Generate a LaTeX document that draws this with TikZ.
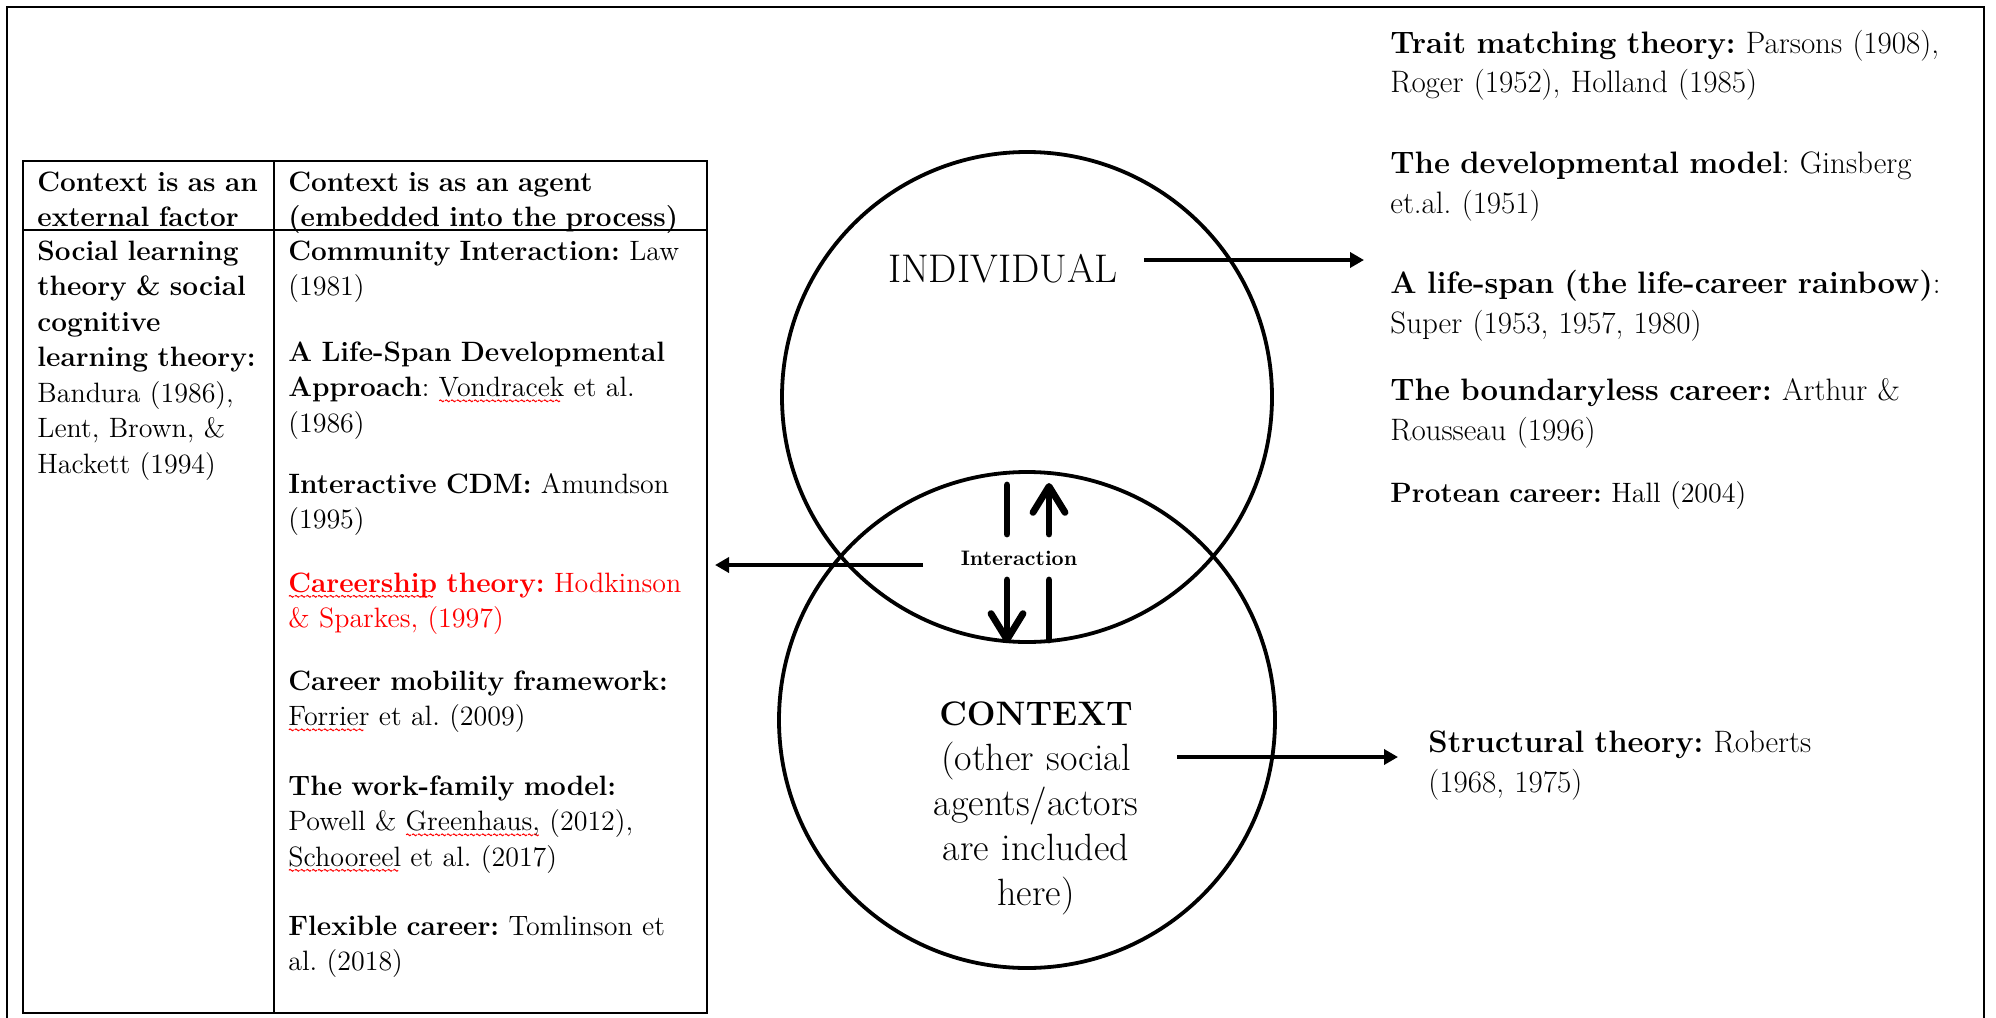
\documentclass[tikz,border=0pt]{standalone}
\usepackage{fontspec}
\usetikzlibrary{arrows.meta}

% red wavy underline, as a spell checker marks a word
\newsavebox\wavebox
\newsavebox\spellbox
\newcommand\spellwave[1]{\leavevmode\sbox\spellbox{#1}%
  \rlap{\raisebox{-3pt}[0pt][0pt]{\leaders\copy\wavebox\hskip\wd\spellbox}}\usebox\spellbox}

\tikzset{
  frameline/.style={line width=1.3pt},
  tableline/.style={line width=1pt},
  ring/.style={circle, draw, line width=1.9pt, inner sep=0pt, minimum size=#1},
  cell/.style={anchor=base west, inner sep=0pt, text width=230pt, align=left,
               font=\fontsize{14}{17.75}\selectfont},
  theory/.style={anchor=base west, inner sep=0pt, text width=330pt, align=left,
               font=\fontsize{15.5}{20}\selectfont},
  link/.style={line width=2.1pt, -{Triangle[length=7pt,width=7.5pt]}},
  flow/.style={line width=3.4pt, line cap=round, -{Straight Barb[length=13pt,width=16pt,round]}},
  bar/.style={line width=3.4pt, line cap=round},
}

\begin{document}
\frenchspacing
% one period of the wavy underline
\sbox\wavebox{\begin{pgfpicture}%
  \pgfsetlinewidth{0.5pt}\pgfsetstrokecolor{red}%
  \pgfpathmoveto{\pgfpoint{0pt}{0pt}}%
  \pgfpathcurveto{\pgfpoint{0.4pt}{0.6pt}}{\pgfpoint{0.8pt}{0.6pt}}{\pgfpoint{1.2pt}{0pt}}%
  \pgfpathcurveto{\pgfpoint{1.6pt}{-0.6pt}}{\pgfpoint{2pt}{-0.6pt}}{\pgfpoint{2.4pt}{0pt}}%
  \pgfusepath{stroke}%
\end{pgfpicture}}%
\begin{tikzpicture}[x=0.5pt, y=-0.5pt]
\useasboundingbox[fill=white] (0,0) rectangle (1996,1017);

% outer frame (its lower edge lies below the page)
\draw[frameline] (7,1030) -- (7,7) -- (1984,7) -- (1984,1030);

% two-column table
\coordinate (tnw) at (23,161);
\coordinate (tse) at (707,1013);
\coordinate (colt) at (274,161);
\coordinate (colb) at (274,1013);
\coordinate (rowl) at (23,230);
\coordinate (rowr) at (707,230);
\draw[tableline] (tnw) rectangle (tse);
\draw[tableline] (colt) -- (colb);
\draw[tableline] (rowl) -- (rowr);

% table headers
\node[cell] (headext) at (37,191) {\bfseries Context is as an\\external factor};
\node[cell] (headagent) at (288,191) {\bfseries Context is as an agent\\(embedded into the process)};

% left column
\node[cell] (social) at (37,260) {\textbf{Social learning}\\\textbf{theory \& social}\\\textbf{cognitive}\\\textbf{learning theory:}\\Bandura (1986),\\Lent, Brown, \&\\Hackett (1994)};

% right column
\node[cell] (community) at (288,260) {\textbf{Community Interaction:} Law\\(1981)};
\node[cell] (lifespan) at (288,361) {\textbf{A Life-Span Developmental}\\\textbf{Approach}: \spellwave{Vondracek} et al.\\(1986)};
\node[cell] (cdm) at (288,493) {\textbf{Interactive CDM:} Amundson\\(1995)};
\node[cell, text=red] (careership) at (288,592) {\textbf{\spellwave{Careership} theory:} Hodkinson\\\& Sparkes, (1997)};
\node[cell] (mobility) at (288,690) {\textbf{Career mobility framework:}\\\spellwave{Forrier} et al. (2009)};
\node[cell] (workfamily) at (288,795) {\textbf{The work-family model:}\\Powell \& \spellwave{Greenhaus,} (2012),\\\spellwave{Schooreel} et al. (2017)};
\node[cell] (flexible) at (288,935) {\textbf{Flexible career:} Tomlinson et\\al. (2018)};

% the two overlapping circles
\node[ring=245pt] (indiv) at (1027,397) {};
\node[ring=248pt] (ctx) at (1027,720) {};

\node[anchor=base, inner sep=0pt, font=\fontsize{20}{24}\selectfont] (indivlabel) at (1003,282) {INDIVIDUAL};
\node[anchor=base, inner sep=0pt, text width=135pt, align=center, font=\fontsize{19}{22.5}\selectfont] (ctxlabel) at (1036,725)
  {{\fontsize{17}{22.5}\selectfont\bfseries CONTEXT}\\(other social\\agents/actors\\are included\\here)};
\node[anchor=base, inner sep=0pt, font=\fontsize{10.5}{12}\selectfont\bfseries] (interaction) at (1019,565) {Interaction};

% theories on the right
\node[theory] (trait) at (1390,53) {\textbf{Trait matching theory:} Parsons (1908),\\Roger (1952), Holland (1985)};
\node[theory] (develop) at (1390,173) {\textbf{The developmental model}: Ginsberg\\et.al. (1951)};
\node[theory] (rainbow) at (1390,293) {\textbf{A life-span (the life-career rainbow)}:\\Super (1953, 1957, 1980)};
\node[theory] (boundary) at (1390,400) {\textbf{The boundaryless career:} Arthur \&\\Rousseau (1996)};
\node[theory, font=\fontsize{14}{18}\selectfont] (protean) at (1390,502) {\textbf{Protean career:} Hall (2004)};
\node[theory] (structural) at (1428,752) {\textbf{Structural theory:} Roberts\\(1968, 1975)};

% connectors
\coordinate (indivout) at (1144,260);
\coordinate (indivto) at (1364,260);
\coordinate (lensout) at (923,565);
\coordinate (tableto) at (715,565);
\coordinate (ctxout) at (1177,757);
\coordinate (structto) at (1398,757);
\draw[link] (indivout) -- (indivto);
\draw[link] (lensout) -- (tableto);
\draw[link] (ctxout) -- (structto);

% interaction arrows, split by the label
\coordinate (dnA) at (1007,485);
\coordinate (dnB) at (1007,534);
\coordinate (dnC) at (1007,580);
\coordinate (dnD) at (1007,643);
\coordinate (upA) at (1049,640);
\coordinate (upB) at (1049,580);
\coordinate (upC) at (1049,534);
\coordinate (upD) at (1049,483);
\draw[bar] (dnA) -- (dnB);
\draw[flow] (dnC) -- (dnD);
\draw[bar] (upA) -- (upB);
\draw[flow] (upC) -- (upD);
\end{tikzpicture}
\end{document}
